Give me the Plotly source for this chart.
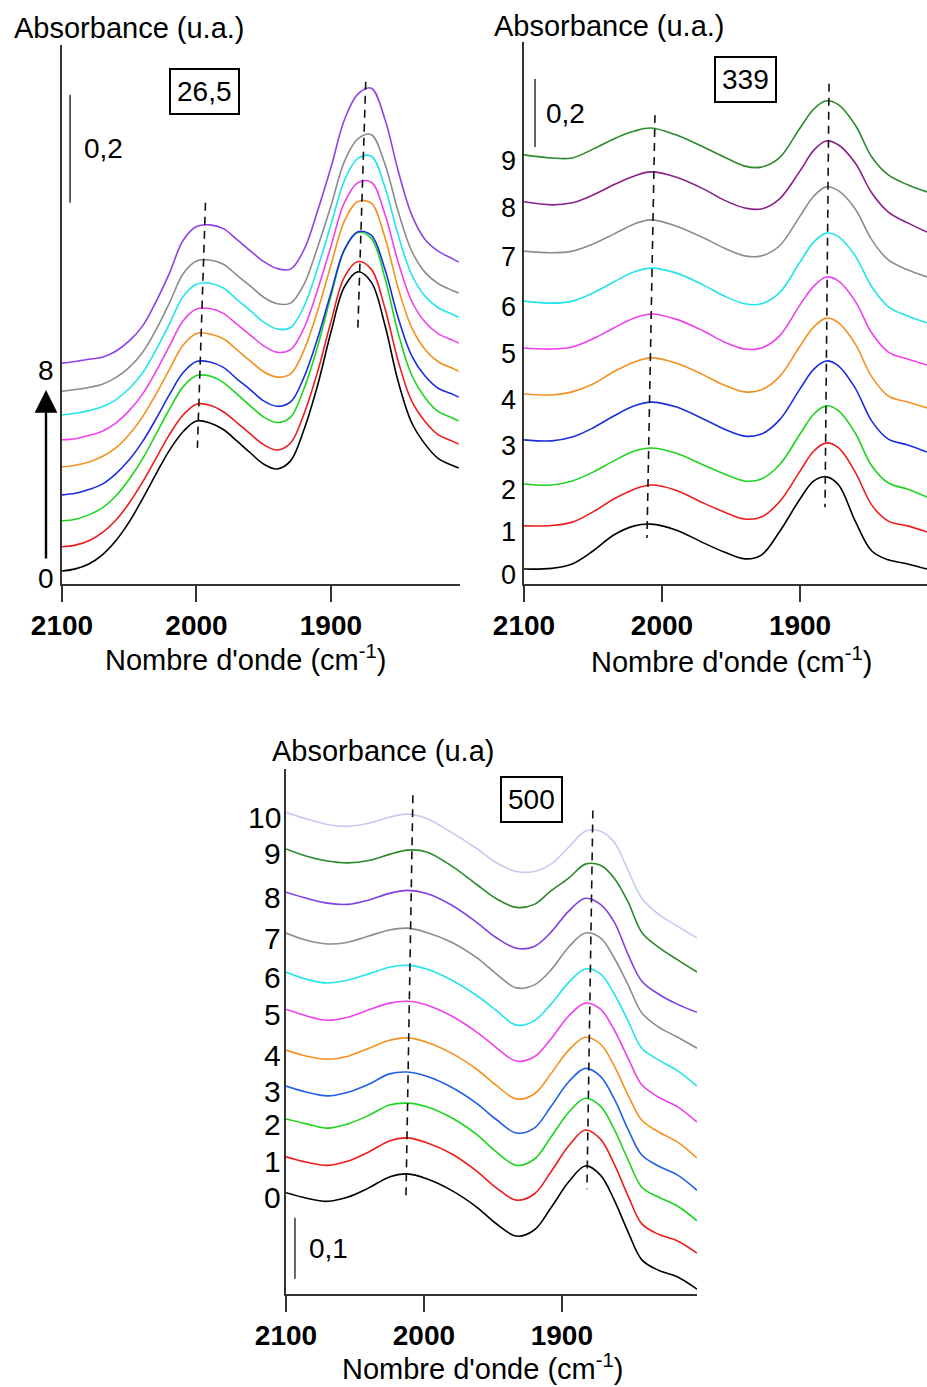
import plotly.graph_objects as go

# ---------------- DATA (absorbance, arbitrary stacked offsets) ----------------
# Panel "26,5"
WN_26 = [2100, 2090, 2080, 2070, 2060, 2050, 2040, 2030, 2020, 2010, 2000, 1990, 1980, 1970, 1960, 1950,
         1940, 1930, 1920, 1910, 1900, 1890, 1880, 1870, 1860, 1850, 1840, 1830, 1820, 1810, 1805]
A26_0 = [0.024, 0.028, 0.037, 0.054, 0.080, 0.115, 0.158, 0.204, 0.248, 0.282, 0.302, 0.298, 0.286, 0.265, 0.243, 0.222,
         0.213, 0.228, 0.286, 0.367, 0.466, 0.550, 0.578, 0.559, 0.481, 0.375, 0.299, 0.259, 0.232, 0.220, 0.215]
A26_1 = [0.069, 0.072, 0.080, 0.095, 0.118, 0.150, 0.189, 0.233, 0.277, 0.313, 0.333, 0.331, 0.319, 0.299, 0.278, 0.258,
         0.248, 0.261, 0.315, 0.392, 0.485, 0.568, 0.597, 0.583, 0.512, 0.413, 0.339, 0.301, 0.276, 0.265, 0.259]
A26_2 = [0.117, 0.120, 0.128, 0.141, 0.163, 0.194, 0.232, 0.278, 0.324, 0.365, 0.386, 0.385, 0.373, 0.352, 0.330, 0.309,
         0.299, 0.309, 0.362, 0.439, 0.533, 0.618, 0.651, 0.640, 0.568, 0.465, 0.387, 0.345, 0.319, 0.308, 0.302]
A26_3 = [0.165, 0.168, 0.175, 0.185, 0.204, 0.230, 0.264, 0.306, 0.351, 0.391, 0.412, 0.411, 0.401, 0.380, 0.360, 0.339,
         0.329, 0.337, 0.383, 0.454, 0.539, 0.619, 0.652, 0.646, 0.584, 0.493, 0.423, 0.385, 0.362, 0.352, 0.346]
A26_4 = [0.217, 0.220, 0.226, 0.236, 0.252, 0.277, 0.310, 0.352, 0.398, 0.442, 0.464, 0.463, 0.454, 0.434, 0.413, 0.393,
         0.383, 0.389, 0.433, 0.505, 0.590, 0.672, 0.708, 0.705, 0.643, 0.548, 0.475, 0.434, 0.411, 0.400, 0.394]
A26_5 = [0.267, 0.269, 0.275, 0.283, 0.298, 0.321, 0.352, 0.394, 0.441, 0.487, 0.509, 0.510, 0.501, 0.481, 0.461, 0.441,
         0.429, 0.434, 0.474, 0.544, 0.625, 0.706, 0.743, 0.744, 0.686, 0.596, 0.524, 0.485, 0.463, 0.452, 0.446]
A26_6 = [0.313, 0.316, 0.321, 0.328, 0.341, 0.362, 0.391, 0.434, 0.482, 0.532, 0.555, 0.557, 0.548, 0.527, 0.506, 0.485,
         0.472, 0.475, 0.514, 0.584, 0.665, 0.747, 0.788, 0.792, 0.736, 0.646, 0.573, 0.533, 0.511, 0.500, 0.494]
A26_7 = [0.357, 0.360, 0.364, 0.370, 0.382, 0.401, 0.429, 0.471, 0.521, 0.574, 0.598, 0.600, 0.592, 0.572, 0.552, 0.531,
         0.519, 0.520, 0.555, 0.623, 0.700, 0.782, 0.824, 0.832, 0.779, 0.690, 0.617, 0.577, 0.556, 0.544, 0.539]
A26_8 = [0.409, 0.412, 0.416, 0.420, 0.431, 0.450, 0.478, 0.523, 0.576, 0.636, 0.662, 0.665, 0.658, 0.638, 0.617, 0.597,
         0.584, 0.583, 0.619, 0.690, 0.771, 0.859, 0.907, 0.918, 0.862, 0.765, 0.684, 0.638, 0.616, 0.603, 0.596]
SERIES_26 = [A26_0, A26_1, A26_2, A26_3, A26_4, A26_5, A26_6, A26_7, A26_8]
COLORS_26 = ["#000000", "#ee1c1c", "#1ed41e", "#1a2ee0", "#f5901e", "#f040ec", "#22e4ec", "#8c8c8c", "#9040e6"]
LABELS_26 = {0: "0", 8: "8"}
DASH_26_WN = [[1993.3, 1999.3], [1874.1, 1880.0]]
DASH_26_A = [[0.706, 0.252], [0.930, 0.470]]
SCALE_26 = 0.2

# Panel "339"
WN_339 = [2100, 2080, 2065, 2050, 2035, 2020, 2008, 1990, 1970, 1955, 1940, 1928, 1915, 1900, 1890, 1881, 1872, 1860, 1848, 1836, 1822, 1808]
A339_0 = [0.044, 0.046, 0.059, 0.097, 0.144, 0.171, 0.176, 0.159, 0.121, 0.094, 0.074, 0.085, 0.153, 0.250, 0.303, 0.315, 0.291, 0.185, 0.097, 0.071, 0.059, 0.044]
A339_1 = [0.171, 0.172, 0.182, 0.212, 0.250, 0.279, 0.291, 0.276, 0.238, 0.212, 0.191, 0.197, 0.241, 0.332, 0.391, 0.415, 0.400, 0.329, 0.232, 0.185, 0.171, 0.153]
A339_2 = [0.294, 0.291, 0.303, 0.329, 0.362, 0.391, 0.400, 0.385, 0.350, 0.324, 0.303, 0.309, 0.350, 0.441, 0.500, 0.524, 0.509, 0.444, 0.347, 0.297, 0.279, 0.256]
A339_3 = [0.424, 0.421, 0.432, 0.459, 0.494, 0.524, 0.535, 0.521, 0.485, 0.456, 0.435, 0.441, 0.482, 0.574, 0.632, 0.656, 0.641, 0.576, 0.479, 0.426, 0.409, 0.388]
A339_4 = [0.559, 0.556, 0.565, 0.588, 0.624, 0.653, 0.665, 0.650, 0.615, 0.585, 0.565, 0.571, 0.609, 0.700, 0.756, 0.782, 0.768, 0.706, 0.609, 0.553, 0.535, 0.518]
A339_5 = [0.694, 0.691, 0.697, 0.721, 0.753, 0.782, 0.794, 0.779, 0.744, 0.712, 0.691, 0.694, 0.729, 0.821, 0.876, 0.903, 0.891, 0.832, 0.738, 0.682, 0.662, 0.644]
A339_6 = [0.832, 0.826, 0.832, 0.856, 0.888, 0.918, 0.929, 0.915, 0.879, 0.847, 0.824, 0.824, 0.856, 0.947, 1.006, 1.032, 1.021, 0.965, 0.874, 0.815, 0.788, 0.768]
A339_7 = [0.979, 0.974, 0.979, 1.000, 1.029, 1.059, 1.071, 1.053, 1.018, 0.988, 0.965, 0.965, 0.994, 1.082, 1.141, 1.168, 1.156, 1.103, 1.012, 0.953, 0.924, 0.903]
A339_8 = [1.124, 1.115, 1.121, 1.144, 1.174, 1.200, 1.212, 1.197, 1.162, 1.129, 1.106, 1.103, 1.132, 1.215, 1.276, 1.303, 1.291, 1.238, 1.150, 1.094, 1.062, 1.035]
A339_9 = [1.262, 1.253, 1.253, 1.279, 1.309, 1.332, 1.341, 1.321, 1.285, 1.256, 1.229, 1.226, 1.253, 1.341, 1.397, 1.421, 1.409, 1.350, 1.256, 1.203, 1.174, 1.153]
SERIES_339 = [A339_0, A339_1, A339_2, A339_3, A339_4, A339_5, A339_6, A339_7, A339_8, A339_9]
COLORS_339 = ["#000000", "#ee1c1c", "#1ed41e", "#1a2ee0", "#f5901e", "#f040ec", "#22e4ec", "#8c8c8c", "#8a208a", "#2a8a2a"]
LABELS_339 = ["0", "1", "2", "3", "4", "5", "6", "7", "8", "9"]
DASH_339_WN = [[2005.1, 2010.9], [1879.0, 1881.9]]
DASH_339_A = [[1.379, 0.135], [1.471, 0.226]]
SCALE_339 = 0.2

# Panel "500"
WN_500 = [2100, 2085, 2070, 2055, 2040, 2025, 2012, 1998, 1980, 1962, 1948, 1933, 1920, 1908, 1895, 1883, 1872, 1862, 1852, 1842, 1830, 1816, 1802]
A500_0 = [0.166, 0.157, 0.152, 0.159, 0.174, 0.192, 0.197, 0.189, 0.170, 0.143, 0.116, 0.095, 0.105, 0.141, 0.184, 0.210, 0.195, 0.154, 0.102, 0.056, 0.039, 0.028, 0.008]
A500_1 = [0.225, 0.216, 0.211, 0.218, 0.233, 0.251, 0.256, 0.248, 0.230, 0.202, 0.175, 0.154, 0.164, 0.200, 0.243, 0.269, 0.254, 0.213, 0.161, 0.115, 0.098, 0.087, 0.067]
A500_2 = [0.287, 0.279, 0.272, 0.279, 0.293, 0.310, 0.313, 0.307, 0.289, 0.262, 0.234, 0.211, 0.221, 0.257, 0.298, 0.321, 0.308, 0.270, 0.220, 0.175, 0.159, 0.144, 0.120]
A500_3 = [0.341, 0.331, 0.325, 0.331, 0.344, 0.361, 0.364, 0.357, 0.339, 0.313, 0.287, 0.264, 0.272, 0.307, 0.348, 0.370, 0.357, 0.320, 0.270, 0.228, 0.210, 0.195, 0.170]
A500_4 = [0.400, 0.390, 0.385, 0.390, 0.403, 0.416, 0.420, 0.413, 0.395, 0.369, 0.343, 0.320, 0.328, 0.361, 0.400, 0.421, 0.410, 0.374, 0.326, 0.285, 0.266, 0.249, 0.223]
A500_5 = [0.467, 0.456, 0.449, 0.454, 0.466, 0.477, 0.480, 0.474, 0.456, 0.430, 0.405, 0.382, 0.389, 0.418, 0.456, 0.477, 0.467, 0.433, 0.387, 0.343, 0.323, 0.307, 0.282]
A500_6 = [0.528, 0.516, 0.510, 0.515, 0.525, 0.536, 0.539, 0.533, 0.515, 0.490, 0.466, 0.441, 0.448, 0.475, 0.511, 0.533, 0.525, 0.492, 0.448, 0.403, 0.384, 0.366, 0.341]
A500_7 = [0.592, 0.580, 0.574, 0.577, 0.587, 0.597, 0.600, 0.593, 0.577, 0.552, 0.526, 0.502, 0.507, 0.531, 0.569, 0.592, 0.584, 0.551, 0.507, 0.461, 0.438, 0.421, 0.403]
A500_8 = [0.659, 0.649, 0.641, 0.639, 0.646, 0.657, 0.662, 0.657, 0.638, 0.610, 0.585, 0.567, 0.570, 0.593, 0.628, 0.649, 0.639, 0.610, 0.557, 0.513, 0.492, 0.475, 0.462]
A500_9 = [0.730, 0.718, 0.710, 0.707, 0.711, 0.721, 0.728, 0.725, 0.702, 0.672, 0.649, 0.634, 0.639, 0.661, 0.682, 0.705, 0.703, 0.682, 0.643, 0.593, 0.569, 0.548, 0.528]
A500_10 = [0.790, 0.779, 0.770, 0.767, 0.772, 0.782, 0.787, 0.780, 0.757, 0.731, 0.708, 0.693, 0.693, 0.705, 0.733, 0.759, 0.759, 0.741, 0.695, 0.649, 0.623, 0.603, 0.584]
SERIES_500 = [A500_0, A500_1, A500_2, A500_3, A500_4, A500_5, A500_6, A500_7, A500_8, A500_9, A500_10]
COLORS_500 = ["#000000", "#ee1c1c", "#1ed41e", "#2060e8", "#f5901e", "#f040ec", "#22e4ec", "#8c8c8c", "#8040e0", "#2a8a2a", "#c8c8f0"]
LABELS_500 = ["0", "1", "2", "3", "4", "5", "6", "7", "8", "9", "10"]
DASH_500_WN = [[2008.0, 2013.0], [1877.5, 1881.8]]
DASH_500_A = [[0.818, 0.161], [0.793, 0.172]]
SCALE_500 = 0.1

X_TICKS = [2100, 2000, 1900]
X_TITLE = "Nombre d'onde (cm<sup>-1</sup>)"

# ---------------- FIGURE ----------------
W, H = 927, 1387
FONT = "Arial, 'Liberation Sans', sans-serif"
AX = "#333333"

fig = go.Figure()

panels = [
    dict(xa="x", ya="y", wn=WN_26, series=SERIES_26, colors=COLORS_26),
    dict(xa="x2", ya="y2", wn=WN_339, series=SERIES_339, colors=COLORS_339),
    dict(xa="x3", ya="y3", wn=WN_500, series=SERIES_500, colors=COLORS_500),
]
for p in panels:
    for vals, col in zip(p["series"], p["colors"]):
        fig.add_trace(go.Scatter(x=p["wn"], y=vals, mode="lines", xaxis=p["xa"], yaxis=p["ya"],
                                 line=dict(color=col, width=1.6, shape="spline", smoothing=1.0),
                                 showlegend=False, hoverinfo="skip"))

# dashed peak guides
for xa, ya, dwn, da in [("x", "y", DASH_26_WN, DASH_26_A), ("x2", "y2", DASH_339_WN, DASH_339_A),
                         ("x3", "y3", DASH_500_WN, DASH_500_A)]:
    for xs, ys in zip(dwn, da):
        fig.add_trace(go.Scatter(x=xs, y=ys, mode="lines", xaxis=xa, yaxis=ya,
                                 line=dict(color="#111111", width=1.6, dash="8px,6px"),
                                 showlegend=False, hoverinfo="skip"))

def xaxis(domain, rng, anchor):
    return dict(domain=domain, range=rng, anchor=anchor, showline=True, linecolor=AX, linewidth=1.5,
                ticks="outside", ticklen=16, tickwidth=1.5, tickcolor=AX, tickvals=X_TICKS,
                tickfont=dict(size=28, family=FONT, color="black", weight="bold"),
                showgrid=False, zeroline=False, fixedrange=True, automargin=False)

def yaxis(domain, rng, anchor):
    return dict(domain=domain, range=rng, anchor=anchor, showline=True, linecolor=AX, linewidth=1.5,
                showticklabels=False, ticks="", showgrid=False, zeroline=False, fixedrange=True,
                automargin=False)

fig.update_layout(
    template="none",
    width=W, height=H, margin=dict(l=0, r=0, t=0, b=0, pad=0), autosize=False,
    paper_bgcolor="white", plot_bgcolor="white",
    xaxis=xaxis([62 / W, 460 / W], [2100, 1804], "y"),
    yaxis=yaxis([1 - 584 / H, 1 - 45 / H], [0, 0.998], "x"),
    xaxis2=xaxis([524 / W, 1.0], [2100, 1808], "y2"),
    yaxis2=yaxis([1 - 584 / H, 1 - 42 / H], [0, 1.594], "x2"),
    xaxis3=xaxis([286 / W, 697 / W], [2100, 1802], "y3"),
    yaxis3=yaxis([1 - 1294 / H, 1 - 769 / H], [0, 0.861], "x3"),
    font=dict(family=FONT, color="black", size=28),
)

ann = []
tf = dict(family=FONT, size=29, color="black")
bf = dict(family=FONT, size=28, color="black")
# y titles
ann.append(dict(text="Absorbance (u.a.)", xref="paper", yref="paper", x=12 / W, y=1 - 28 / H,
                xanchor="left", yanchor="middle", showarrow=False, font=tf))
ann.append(dict(text="Absorbance (u.a.)", xref="paper", yref="paper", x=492 / W, y=1 - 26 / H,
                xanchor="left", yanchor="middle", showarrow=False, font=tf))
ann.append(dict(text="Absorbance (u.a)", xref="paper", yref="paper", x=270 / W, y=1 - 751 / H,
                xanchor="left", yanchor="middle", showarrow=False, font=tf))
# x titles
for cx, cy in [(245, 658), (731, 660), (482, 1367)]:
    ann.append(dict(text=X_TITLE, xref="paper", yref="paper", x=cx / W, y=1 - cy / H,
                    xanchor="center", yanchor="middle", showarrow=False, font=tf))
# boxed temperatures
for txt, xa, ya, bx, by in [("26,5", "x", "y", 1994, 0.911), ("339", "x2", "y2", 1939.5, 1.485),
                            ("500", "x3", "y3", 1922, 0.811)]:
    ann.append(dict(text=txt, xref=xa, yref=ya, x=bx, y=by, showarrow=False, font=bf,
                    bordercolor="black", borderwidth=2, borderpad=6, bgcolor="white"))

# scale bars
shapes = []
for xa, ya, sx, y0, val, lbl, lx in [("x", "y", 2094, 0.706, SCALE_26, "0,2", 2085),
                                     ("x2", "y2", 2092, 1.285, SCALE_339, "0,2", 2085.5),
                                     ("x3", "y3", 2093.5, 0.025, SCALE_500, "0,1", 2085)]:
    shapes.append(dict(type="line", xref=xa, yref=ya, x0=sx, x1=sx, y0=y0, y1=y0 + val,
                       line=dict(color=AX, width=1.5)))
    ann.append(dict(text=lbl, xref=xa, yref=ya, x=lx, y=y0 + val / 2, xanchor="left", yanchor="middle",
                    showarrow=False, font=bf))

# curve index labels
for k, lbl in LABELS_26.items():
    ann.append(dict(text=lbl, xref="paper", yref="y", x=46 / W, y=SERIES_26[k][0], yshift=-7,
                    xanchor="center", yanchor="middle", showarrow=False, font=bf))
for k, lbl in enumerate(LABELS_339):
    ann.append(dict(text=lbl, xref="paper", yref="y2", x=518 / W, y=SERIES_339[k][0], yshift=-6,
                    xanchor="right", yanchor="middle", showarrow=False,
                    font=dict(family=FONT, size=27, color="black")))
for k, lbl in enumerate(LABELS_500):
    ann.append(dict(text=lbl, xref="paper", yref="y3", x=283 / W, y=SERIES_500[k][0], yshift=-5,
                    xanchor="right", yanchor="middle", showarrow=False,
                    font=dict(family=FONT, size=30, color="black")))

# arrow in panel 1
ann.append(dict(text="", xref="paper", yref="paper", x=46 / W, y=1 - 390 / H, ax=0, ay=170,
                showarrow=True, arrowhead=2, arrowsize=1.9, arrowwidth=2.4, arrowcolor="black"))

fig.update_layout(annotations=ann, shapes=shapes)
fig.write_html("out.html", config={"displayModeBar": False},
               post_script="document.body.style.margin='0px';")
